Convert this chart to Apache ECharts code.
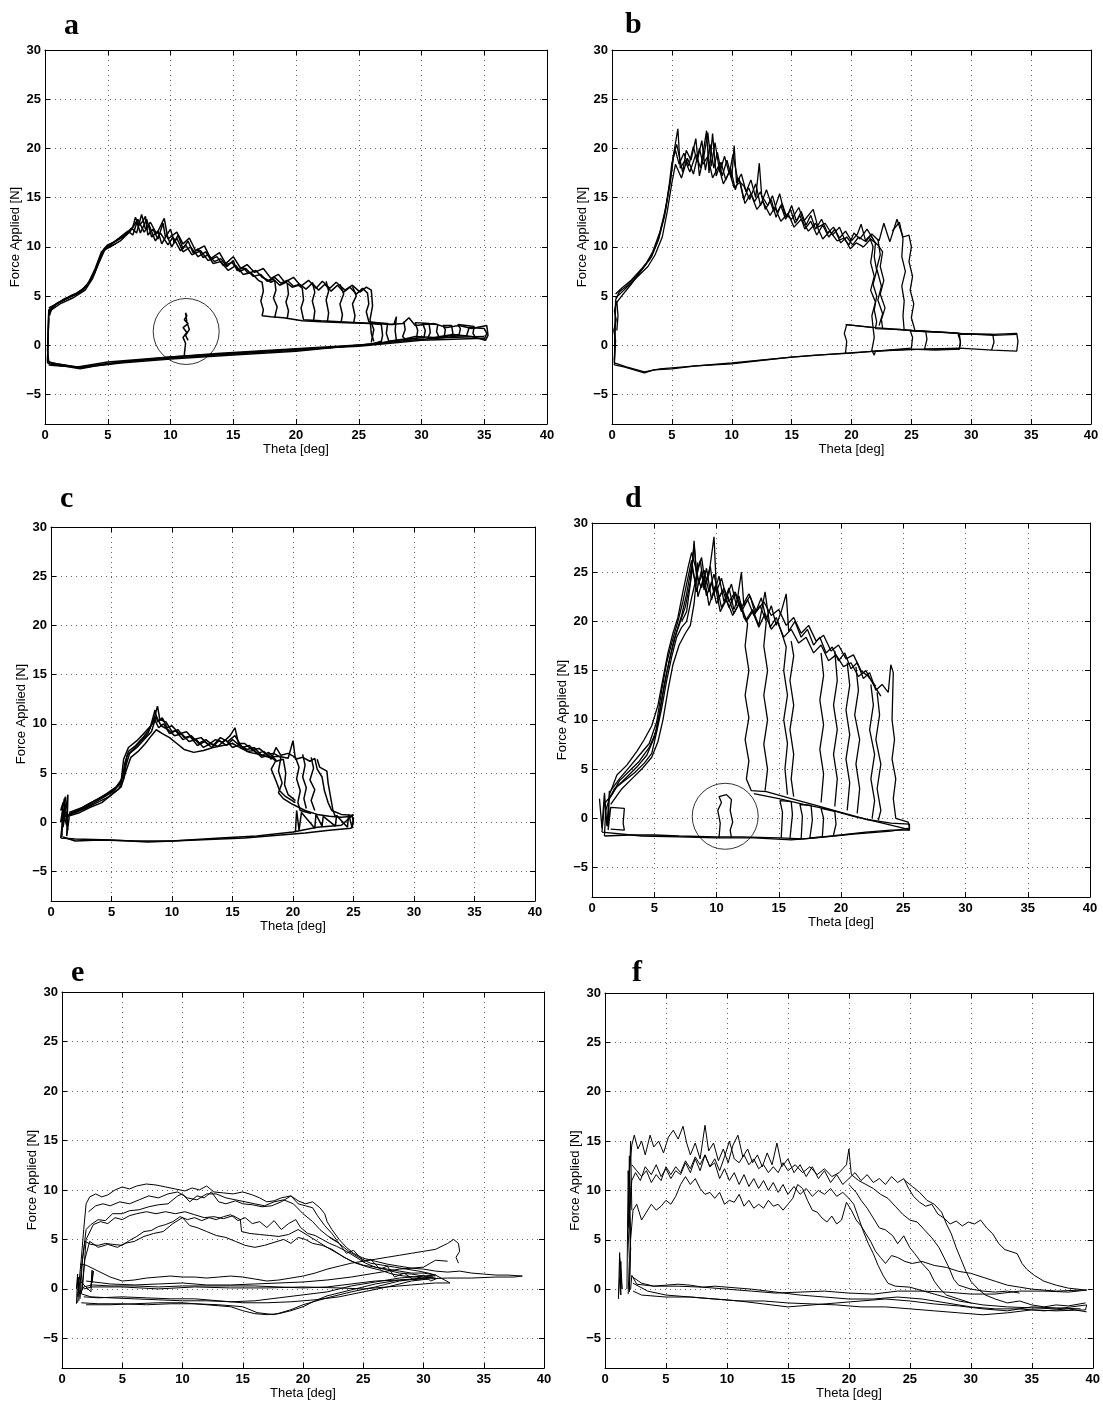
<!DOCTYPE html>
<html><head><meta charset="utf-8">
<script src="https://cdn.jsdelivr.net/npm/echarts@6/dist/echarts.min.js"></script>
<style>html,body{margin:0;padding:0;background:#fff}#c{width:1103px;height:1401px}</style>
</head><body><div id="c"></div>
<script>
// ---------- tick labels / text ----------
const xTicks = [0,5,10,15,20,25,30,35,40];
const yTicks = [-5,0,5,10,15,20,25,30];
const panelLetters = ['a','b','c','d','e','f'];
const xName = 'Theta [deg]';
const yName = 'Force Applied [N]';

// ---------- panel a traces (flat x,y lists) ----------
const a1 = [0.2,-1.6, 0.25,1.0, 0.3,3.4, 0.6,3.9, 1.0,4.3, 1.5,4.6, 2.0,5.0, 2.5,5.3, 3.0,5.7, 3.5,6.4, 4.0,7.5, 4.4,8.8, 4.7,9.8, 5.0,10.2, 5.5,10.5, 6.0,10.9, 6.5,11.3, 7.0,12.0, 7.2,13.0, 7.5,12.2, 7.8,12.6, 8.0,13.1, 8.2,11.2, 8.6,11.8, 9.0,10.8, 9.4,12.4, 9.6,11.0, 10.0,11.8, 10.3,10.4, 10.6,11.2, 11.0,9.8, 11.4,10.6, 11.8,9.4, 12.2,9.8, 12.6,8.9, 13.0,9.2, 13.5,8.5, 14.0,8.8, 14.5,8.0, 15.0,8.6, 15.3,7.6, 15.8,7.9, 16.2,7.3, 16.8,7.6, 17.3,6.9, 17.8,6.6, 18.3,6.9, 18.8,6.3, 19.3,6.6, 19.8,6.0, 20.3,6.2, 20.8,5.7, 21.3,6.3, 21.8,5.6, 22.3,6.2, 22.8,5.5, 23.3,6.1, 23.8,5.4, 24.3,5.9, 24.8,5.2, 25.3,5.8, 25.7,5.3, 25.8,4.2, 25.6,3.4, 25.8,2.4, 26.5,2.3, 27.5,2.1, 28.5,2.2, 29.0,2.8, 29.5,2.0, 31.0,2.2, 32.0,1.8, 33.0,2.0, 34.0,1.7, 35.2,2.0, 35.3,1.0, 35.1,0.5, 34.0,0.9, 32.5,1.1, 31.0,0.8, 29.5,0.9, 28.5,0.6, 27.0,0.3, 25.0,0.0, 20.0,-0.5, 15.0,-0.9, 10.0,-1.3, 7.0,-1.6, 5.0,-1.9, 2.7,-2.3, 1.5,-2.0, 0.5,-1.8, 0.2,-1.6];
const a2 = [0.2,-1.8, 0.3,3.6, 0.7,4.0, 1.2,4.4, 2.0,4.9, 3.0,5.5, 3.6,6.6, 4.2,8.2, 4.6,9.6, 5.2,10.0, 6.0,10.6, 6.8,11.6, 7.3,12.6, 7.6,11.4, 8.1,12.8, 8.5,11.0, 9.0,11.6, 9.3,10.3, 9.7,11.2, 10.1,10.0, 10.5,10.9, 11.0,9.5, 11.6,10.0, 12.2,9.0, 12.8,9.5, 13.4,8.3, 14.0,8.5, 14.6,7.6, 15.2,8.1, 15.8,7.2, 16.4,7.4, 17.0,6.6, 17.3,6.4, 17.4,5.5, 17.2,4.5, 17.4,3.6, 17.3,3.0, 18.0,2.9, 19.0,2.8, 20.5,2.5, 22.0,2.4, 24.0,2.3, 26.0,2.2, 26.8,2.1, 26.9,1.0, 26.8,0.4, 26.0,0.1, 24.0,-0.1, 20.0,-0.6, 15.0,-1.0, 10.0,-1.4, 6.0,-1.8, 4.0,-2.1, 2.8,-2.4, 1.5,-2.1, 0.4,-1.9, 0.2,-1.8];
const a3 = [0.3,3.2, 0.8,4.1, 1.5,4.7, 2.5,5.2, 3.3,6.0, 3.9,7.2, 4.5,9.3, 5.0,10.0, 5.8,10.8, 6.6,11.6, 7.0,11.2, 7.4,12.8, 7.9,11.5, 8.3,12.2, 8.8,10.6, 9.2,11.4, 9.8,10.2, 10.2,11.0, 10.8,9.6, 11.2,10.2, 11.7,9.2, 12.4,9.6, 13.0,8.6, 13.7,9.0, 14.2,8.1, 14.9,8.4, 15.5,7.5, 16.0,7.8, 16.6,7.0, 17.2,7.2, 17.7,6.5, 18.2,6.7, 18.7,6.1, 19.2,6.4, 19.7,5.9, 20.2,6.1, 20.5,5.8, 20.6,4.6, 20.4,3.8, 20.6,2.6, 22.0,2.5, 25.0,2.3, 27.8,2.1, 28.0,2.9, 27.9,1.5, 28.0,0.5];
const a4 = [17.5,6.8, 18.0,6.4, 18.3,6.6, 18.4,5.6, 18.2,4.8, 18.5,3.9, 18.3,2.8];
const a5 = [19.3,6.3, 19.4,5.2, 19.2,4.4, 19.4,3.5, 19.3,2.7];
const a6 = [21.3,6.4, 21.5,5.4, 21.3,4.5, 21.5,3.5, 21.4,2.5];
const a7 = [22.4,6.5, 22.6,5.5, 22.4,4.6, 22.6,3.3, 22.5,2.4];
const a8 = [23.5,6.2, 23.8,5.2, 23.5,4.2, 23.7,3.1, 23.6,2.4];
const a9 = [24.5,6.0, 24.8,5.0, 24.5,4.2, 24.7,3.0, 24.6,2.3];
const a10 = [28.6,2.4, 28.7,1.6, 28.5,0.9, 28.7,0.6, 30.2,0.8, 30.3,1.5, 30.1,2.2, 31.3,2.1, 31.2,1.4, 31.4,0.8, 33.0,1.1, 33.1,1.7, 32.9,2.1, 34.2,1.9, 34.1,1.2, 34.3,0.8];
const a11 = [11.1,-1.0, 11.2,0.2, 11.0,0.8, 11.3,1.3, 11.0,1.8, 11.4,2.2, 11.1,2.6, 11.3,3.0, 11.2,3.3, 11.3,2.4, 11.5,1.6, 11.2,1.0, 11.4,0.5];
const a12 = [35.0,0.7, 30.0,0.5, 25.0,-0.1, 20.0,-0.4, 15.0,-0.8, 10.0,-1.2, 5.0,-1.7, 2.6,-2.2, 1.0,-1.9, 0.3,-1.7, 0.2,-0.5, 0.3,2.8];
const a13 = [0.3,3.8, 0.9,4.2, 1.8,4.8, 2.8,5.4, 3.4,6.2, 4.0,7.8, 4.5,9.5, 5.3,10.3, 6.2,11.0, 6.9,11.9, 7.3,11.4, 7.7,13.3, 8.0,11.8, 8.4,12.5, 8.9,11.3, 9.5,12.9, 9.8,10.8, 10.5,11.5, 11.0,10.3, 11.5,10.9, 12.0,9.6, 12.7,10.1, 13.2,8.8, 13.9,9.4, 14.4,8.3, 15.0,9.0, 15.6,7.8, 16.1,8.2, 16.7,7.4, 17.4,7.8, 18.0,6.8, 18.6,7.2, 19.1,6.4, 19.8,6.9, 20.4,6.0, 21.0,6.6, 21.6,5.8, 22.1,6.5, 22.7,5.8, 23.2,6.4, 23.9,5.6, 24.5,6.1, 25.1,5.4, 25.6,5.9, 26.0,5.6, 26.1,4.0, 25.9,2.6, 26.0,1.2, 26.2,0.4];
const a14 = [26.0,0.3, 26.2,1.6, 26.0,2.3, 27.3,2.2, 27.2,1.2, 27.4,0.4, 28.0,0.5, 29.6,0.7, 29.7,1.5, 29.5,2.3, 30.6,2.2, 30.7,1.3, 30.5,0.7, 31.8,0.8, 31.9,1.6, 31.7,2.0, 32.4,2.0, 32.5,1.2, 32.3,0.9, 33.6,1.0, 33.8,1.8, 35.0,1.7, 35.2,1.2, 35.0,0.6];
const a15 = [0.3,-2.0, 1.2,-2.1, 2.8,-2.2, 6.0,-1.7, 10.0,-1.2, 14.0,-0.8, 18.0,-0.5, 22.0,-0.2, 26.0,0.1, 29.0,0.5, 32.0,0.8, 35.0,0.9];
const a16 = [0.35,3.0, 0.5,3.6, 1.2,4.2, 2.2,4.8, 3.2,5.6, 3.8,6.8, 4.3,8.4, 4.8,9.8, 5.6,10.3];
const aCircle = [[11.25, 1.4]];

// ---------- panel b ----------
const b1 = [0.2,-2.0, 0.25,1.0, 0.3,4.6, 0.6,5.4, 1.2,6.0, 2.0,7.0, 2.8,8.2, 3.4,9.5, 4.0,11.5, 4.5,14.0, 4.8,16.5, 5.0,18.5, 5.3,19.8, 5.6,18.4, 6.0,19.5, 6.4,18.2, 6.8,20.2, 7.1,18.6, 7.5,20.8, 7.8,17.8, 8.2,20.4, 8.5,18.0, 8.8,19.6, 9.2,17.2, 9.6,18.8, 10.0,17.0, 10.2,20.3, 10.4,16.5, 10.8,17.4, 11.2,15.6, 11.6,16.8, 12.0,15.0, 12.3,18.5, 12.5,15.2, 13.0,14.2, 13.4,15.2, 13.8,13.5, 14.2,14.4, 14.6,13.0, 15.0,14.2, 15.4,12.6, 15.8,13.6, 16.2,12.2, 16.6,13.2, 17.0,11.8, 17.5,12.8, 18.0,11.4, 18.5,12.0, 19.0,10.9, 19.5,11.6, 20.0,10.6, 20.5,11.3, 20.8,12.3, 21.2,10.5, 21.6,11.2, 22.0,10.4, 21.9,9.0, 22.1,7.6, 21.8,6.2, 22.1,5.0, 21.9,3.6, 22.1,2.4, 22.0,1.7, 24.0,1.6, 26.0,1.4, 28.0,1.3, 29.0,1.2, 29.1,0.2, 29.0,-0.4, 27.0,-0.5, 25.0,-0.4, 22.0,-0.6, 20.0,-0.8, 17.0,-1.0, 15.0,-1.2, 12.0,-1.6, 10.0,-1.9, 7.0,-2.1, 5.0,-2.4, 3.5,-2.5, 2.7,-2.8, 1.0,-2.2, 0.2,-2.0];
const b2 = [0.2,-1.8, 0.3,4.2, 0.8,5.0, 1.6,6.2, 2.4,7.5, 3.2,8.8, 3.8,10.5, 4.3,12.8, 4.7,15.5, 5.0,17.8, 5.2,19.8, 5.5,22.0, 5.7,18.0, 6.1,18.8, 6.5,17.6, 7.0,19.4, 7.4,18.0, 7.9,21.8, 8.1,17.5, 8.4,21.5, 8.7,17.2, 9.1,18.6, 9.5,16.8, 9.9,18.0, 10.3,15.8, 10.6,17.0, 11.0,14.8, 11.4,16.0, 11.9,14.6, 12.4,15.6, 12.8,13.8, 13.3,14.8, 13.7,13.0, 14.1,14.2, 14.5,12.8, 14.9,13.8, 15.3,12.4, 15.7,13.2, 16.1,11.8, 16.6,12.6, 17.1,11.2, 17.6,12.2, 18.1,11.0, 18.6,11.8, 19.1,10.4, 19.6,11.0, 20.1,10.2, 20.6,11.0, 21.1,10.6, 21.7,11.3, 22.3,10.6, 22.7,12.4, 23.2,10.5, 23.8,12.8, 24.3,11.0, 24.8,11.2, 25.0,10.0, 24.8,8.5, 25.1,7.0, 24.9,5.6, 25.2,4.2, 25.0,2.8, 25.3,1.5, 26.5,1.4, 29.0,1.2, 31.8,1.1, 33.8,1.2, 33.9,0.4, 33.8,-0.6, 31.8,-0.5, 29.0,-0.3, 26.0,-0.4, 22.0,-0.6, 19.5,-0.8, 15.0,-1.2, 10.0,-1.8, 6.0,-2.2, 4.0,-2.4, 2.7,-2.7, 1.2,-2.2, 0.2,-1.8];
const b3 = [0.3,4.8, 1.0,5.6, 2.0,6.8, 3.0,8.0, 3.6,9.2, 4.2,11.0, 4.6,13.5, 5.0,16.5, 5.3,18.4, 5.8,17.0, 6.3,19.0, 6.8,17.4, 7.3,20.0, 7.6,18.4, 8.0,19.2, 8.4,17.0, 8.9,18.2, 9.3,16.4, 9.8,17.6, 10.2,16.0, 10.7,16.6, 11.1,14.4, 11.6,15.4, 12.1,13.8, 12.6,14.6, 13.2,13.2, 13.6,14.0, 14.1,12.6, 14.7,13.4, 15.2,12.0, 15.8,12.8, 16.4,11.6, 17.0,12.4, 17.6,10.8, 18.2,11.6, 18.8,10.6, 19.4,10.9, 19.9,9.8, 20.4,10.4, 21.0,10.0, 21.6,10.8, 22.2,10.2, 22.6,9.5, 22.4,8.0, 22.7,6.6, 22.4,5.2, 22.8,3.8, 22.5,2.6, 22.6,1.7];
const b4 = [21.5,11.0, 21.8,10.0, 21.6,8.4, 21.9,7.0, 21.6,5.6, 22.0,4.4, 21.7,3.0, 21.8,1.8];
const b5 = [23.4,11.6, 24.0,12.5, 24.3,10.8, 24.2,9.0, 24.5,7.5, 24.2,6.0, 24.4,4.5, 24.3,3.0, 24.4,1.5];
const b6 = [22.2,10.8, 22.4,9.2, 22.1,7.8, 22.5,6.0, 22.2,4.6, 22.6,3.2, 22.3,2.0];
const b7 = [19.5,-0.8, 19.6,0.4, 19.4,1.2, 19.6,2.1, 21.8,1.8, 21.9,0.8, 21.7,-0.5, 21.9,-1.0, 22.0,-0.6, 25.0,-0.3, 25.1,0.8, 24.9,1.5, 26.2,1.4, 26.3,0.6, 26.1,-0.4, 29.0,-0.4, 29.1,0.4, 28.9,1.1, 31.8,1.1, 31.9,0.3, 31.7,-0.5];
const b8 = [19.5,2.1, 22.0,1.8, 25.0,1.5, 29.0,1.2, 31.8,1.0, 33.8,1.1];
const b9 = [0.2,-1.5, 0.3,0.5, 0.15,1.5, 0.35,2.6, 0.2,3.5, 0.4,4.5, 0.5,3.0, 0.4,1.5];
const b10 = [0.3,5.2, 0.8,5.8, 1.6,6.6, 2.5,7.8, 3.3,9.0, 3.9,10.8, 4.4,13.2, 4.9,16.8, 5.1,19.2, 5.4,20.4, 5.9,17.6, 6.2,19.8, 6.6,18.8, 7.0,21.0, 7.3,17.2, 7.7,19.4, 8.0,21.6, 8.3,18.2, 8.6,20.6, 9.0,17.6, 9.4,19.2, 9.8,17.4, 10.1,19.4, 10.5,16.8, 11.0,16.2, 11.5,14.8, 12.0,16.4, 12.4,14.2, 12.9,15.8, 13.5,13.6, 14.0,15.4, 14.4,13.4, 15.0,12.8, 15.6,14.0, 16.0,12.6, 16.8,13.8, 17.2,12.0, 17.8,12.4, 18.4,11.2, 19.0,12.0, 19.4,10.8, 19.8,10.2, 20.2,11.4, 20.7,10.8, 21.3,11.8, 21.8,10.8];

// ---------- panel c ----------
const c1 = [0.8,-1.6, 1.0,0.5, 1.5,0.8, 2.2,1.2, 3.0,1.8, 3.8,2.3, 4.6,2.9, 5.4,3.6, 5.9,4.5, 6.1,6.0, 6.4,7.2, 7.0,7.8, 7.6,8.6, 8.2,9.6, 8.6,11.4, 8.8,10.2, 9.2,10.6, 9.6,9.6, 10.0,9.8, 10.6,9.0, 11.2,9.2, 11.8,8.4, 12.4,8.6, 13.0,7.9, 13.6,8.4, 14.2,8.1, 14.8,8.8, 15.2,9.6, 15.5,8.0, 16.0,8.0, 16.6,7.4, 17.2,7.5, 17.8,6.9, 18.4,7.0, 19.0,6.6, 18.8,5.2, 19.1,4.0, 18.8,3.0, 19.2,2.4, 20.0,1.8, 21.0,1.2, 22.0,0.8, 23.0,0.6, 24.0,0.5, 24.9,0.6, 25.0,0.0, 24.8,-0.6, 23.0,-0.8, 21.0,-1.1, 19.0,-1.3, 16.0,-1.6, 12.0,-1.8, 8.0,-2.0, 5.0,-1.8, 2.0,-1.7, 0.8,-1.6];
const c2 = [1.4,0.6, 2.4,1.0, 3.2,1.5, 4.2,2.0, 5.0,2.8, 5.8,3.6, 6.2,5.2, 6.6,6.6, 7.2,7.2, 7.8,8.0, 8.3,8.8, 8.7,9.4, 9.2,9.0, 9.8,8.6, 10.4,8.0, 11.0,7.4, 11.8,7.1, 12.6,7.3, 13.4,7.6, 14.2,7.8, 15.0,8.0, 15.6,7.6, 16.4,7.1, 17.2,6.9, 18.0,6.6, 18.8,6.7, 19.6,6.5, 20.0,8.3, 20.2,6.4, 20.8,6.6, 21.4,6.2, 21.8,6.5, 22.0,5.4, 22.4,4.6, 22.6,3.2, 22.9,2.0, 23.2,1.2, 24.0,0.8, 25.0,0.7];
const c3 = [1.5,1.0, 2.6,1.5, 3.6,2.2, 4.4,2.7, 5.2,3.3, 5.8,4.2, 6.0,6.4, 6.4,7.6, 7.2,8.4, 7.8,9.2, 8.4,10.0, 8.8,11.8, 9.0,10.4, 9.5,10.2, 10.0,9.2, 10.5,9.4, 11.0,8.6, 11.6,8.8, 12.2,8.0, 12.8,8.4, 13.4,7.8, 14.0,8.6, 14.6,8.2, 15.2,8.8, 15.8,7.6, 16.4,7.8, 17.0,7.0, 17.6,7.2, 18.2,6.4, 18.6,7.6, 19.0,6.8, 19.6,7.0, 20.2,6.6, 20.5,5.6, 20.3,4.4, 20.6,3.2, 20.4,2.0, 20.6,1.2, 21.5,0.9];
const c4 = [20.8,6.9, 21.0,5.8, 20.8,4.6, 21.1,3.5, 20.9,2.4, 21.1,1.4];
const c5 = [21.5,6.6, 21.7,5.5, 21.4,4.3, 21.8,3.3, 21.5,2.2, 21.8,1.2];
const c6 = [22.0,6.4, 22.2,5.6, 22.8,5.2, 22.9,4.0, 23.1,2.6, 23.3,1.2, 23.5,0.6];
const c7 = [25.0,0.8, 24.0,-0.3, 22.0,-0.5, 20.0,-1.0, 17.0,-1.4, 14.0,-1.6, 10.0,-1.9, 7.0,-1.9, 4.0,-1.8, 2.0,-1.9, 1.0,-1.5];
const c8 = [0.9,-1.5, 1.0,2.0, 0.8,1.2, 1.2,2.6, 1.0,-0.5, 1.4,2.8, 1.3,-1.4, 1.5,0.5, 0.9,1.5, 1.4,-0.8, 1.1,2.4, 0.8,0.0];
const c9 = [20.2,-1.0, 20.3,1.2, 20.5,-0.8, 20.7,1.0, 21.8,-0.6, 21.9,0.8, 22.4,-0.4, 22.5,0.6, 23.5,-0.4, 23.6,0.7, 24.5,-0.5, 24.6,0.8, 24.9,-0.6, 25.0,0.5];
const c10 = [1.5,0.9, 2.5,1.3, 3.4,1.9, 4.3,2.5, 5.1,3.1, 5.7,3.9, 6.0,5.0, 6.3,6.8, 6.8,7.4, 7.4,8.2, 8.0,9.0, 8.5,10.6, 8.9,9.6, 9.3,10.0, 9.8,9.0, 10.3,9.3, 10.9,8.4, 11.5,8.7, 12.1,7.8, 12.7,8.2, 13.3,7.6, 13.9,8.3, 14.5,7.8, 15.0,8.4, 15.6,7.8, 16.2,7.4, 16.8,7.6, 17.4,6.8, 18.0,7.1, 18.6,6.3, 18.2,5.4, 18.6,4.2, 18.9,3.2, 19.4,2.6, 20.2,2.0];
const c11 = [1.5,0.7, 2.8,1.4, 3.8,2.0, 4.8,2.6, 5.6,3.4, 6.0,4.4, 6.2,5.8, 6.5,7.0, 7.1,7.6, 7.7,8.4, 8.3,9.2, 8.7,10.8, 9.1,9.8, 9.7,9.4, 10.2,8.8, 10.8,9.0, 11.4,8.2, 12.0,8.4, 12.6,7.6, 13.2,8.0, 13.8,7.7, 14.4,8.4, 15.0,7.6, 15.6,7.9, 16.2,7.2, 16.8,7.3, 17.4,6.6, 18.0,6.8, 18.6,6.2, 19.2,6.4, 19.4,5.0, 19.3,3.8, 19.6,2.8, 20.2,2.2];

// ---------- panel d ----------
const d1 = [1.0,-1.8, 1.1,0.8, 1.4,2.0, 2.0,3.2, 2.8,4.2, 3.6,5.2, 4.4,6.4, 5.0,8.2, 5.4,10.5, 5.8,13.5, 6.2,16.0, 6.6,18.2, 7.0,19.6, 7.5,21.5, 7.9,24.0, 8.2,27.8, 8.4,25.0, 8.8,26.5, 9.1,23.8, 9.5,25.6, 9.8,22.8, 10.2,24.6, 10.6,22.0, 11.0,23.4, 11.4,21.2, 11.8,22.6, 12.2,20.4, 12.5,19.8, 12.3,17.5, 12.6,15.0, 12.3,12.5, 12.6,10.2, 12.3,8.0, 12.6,5.8, 12.4,4.0, 12.8,2.8, 14.0,2.7, 16.0,2.0, 18.0,1.3, 20.0,0.6, 22.0,-0.1, 24.0,-0.5, 25.5,-0.6, 25.5,-1.2, 24.0,-1.2, 22.0,-1.4, 20.0,-1.7, 17.0,-2.1, 15.0,-2.0, 12.0,-1.9, 10.0,-1.9, 7.0,-1.8, 5.0,-1.7, 3.0,-1.7, 1.0,-1.8];
const d2 = [0.8,-1.4, 1.0,1.5, 1.6,2.4, 2.2,3.8, 3.0,4.8, 3.8,5.8, 4.6,7.2, 5.2,9.0, 5.6,12.0, 6.0,14.8, 6.4,17.0, 6.8,19.0, 7.2,20.6, 7.6,22.8, 8.0,25.6, 8.3,24.0, 8.7,26.2, 9.0,23.2, 9.4,24.8, 9.8,28.6, 10.0,23.0, 10.4,24.4, 10.8,22.4, 11.2,23.8, 11.6,21.6, 12.0,25.0, 12.2,21.6, 12.7,22.6, 13.1,20.8, 13.6,22.4, 14.0,20.2, 14.4,21.6, 14.8,19.6, 15.2,21.0, 15.6,22.8, 15.8,19.0, 16.3,20.0, 16.8,18.4, 17.3,19.2, 17.8,17.6, 18.3,18.4, 18.8,16.8, 19.3,17.4, 19.8,16.0, 20.3,16.8, 20.8,15.2, 21.3,15.8, 21.8,14.2, 22.3,14.8, 22.8,13.0, 23.3,13.6, 23.8,12.8, 24.0,15.6, 24.2,14.8, 24.1,10.0, 24.3,8.0, 24.1,6.0, 24.4,4.0, 24.2,2.0, 24.4,0.0, 25.4,-0.4, 25.5,-1.0, 24.0,-1.3, 21.0,-1.6, 18.0,-2.0, 16.0,-2.2, 13.0,-2.0, 10.0,-2.0, 7.0,-1.9, 4.0,-1.8, 0.8,-1.4];
const d3 = [1.5,2.8, 2.2,4.0, 3.0,5.2, 3.8,6.4, 4.6,7.6, 5.2,9.8, 5.6,13.0, 6.0,15.8, 6.4,17.8, 6.9,20.0, 7.3,22.0, 7.7,24.4, 8.0,26.2, 8.4,23.0, 8.8,25.2, 9.2,22.6, 9.6,24.0, 10.0,21.8, 10.5,23.2, 11.0,21.4, 11.5,22.8, 12.0,21.0, 12.5,22.2, 13.0,20.6, 13.5,21.6, 14.0,20.0, 13.8,17.5, 14.1,15.0, 13.8,12.5, 14.1,10.0, 13.8,7.5, 14.1,5.0, 13.9,2.8];
const d4 = [7.2,20.0, 7.6,21.0, 8.0,24.8, 8.2,28.2, 8.5,22.5, 9.0,24.6, 9.4,21.6, 9.9,23.6, 10.3,21.0, 10.8,22.2, 11.3,20.6, 11.8,21.8, 12.4,20.2, 12.9,21.2, 13.4,19.6, 13.9,23.0, 14.3,19.4, 14.8,20.4, 15.3,18.6, 15.6,17.4, 15.4,15.0, 15.7,12.5, 15.4,10.0, 15.7,7.6, 15.5,5.0, 15.7,2.4];
const d5 = [16.0,18.0, 16.2,16.5, 15.9,14.0, 16.2,11.5, 15.9,9.0, 16.2,6.5, 16.0,4.0, 16.2,2.2];
const d6 = [18.4,16.8, 18.6,14.5, 18.3,12.0, 18.6,9.5, 18.3,7.0, 18.6,4.5, 18.4,1.6];
const d7 = [19.5,17.0, 19.7,14.0, 19.4,11.5, 19.7,9.0, 19.4,6.5, 19.7,4.0, 19.5,1.2];
const d8 = [20.5,15.8, 20.7,13.5, 20.4,11.0, 20.7,8.5, 20.4,6.0, 20.7,3.6, 20.5,0.8];
const d9 = [21.2,15.4, 21.4,13.0, 21.1,10.5, 21.5,8.0, 21.2,5.5, 21.5,3.0, 21.3,0.5];
const d10 = [22.4,13.6, 22.6,11.5, 22.3,9.0, 22.7,6.5, 22.4,4.0, 22.7,1.8, 22.5,0.0];
const d11 = [22.9,12.8, 23.1,10.5, 22.8,8.0, 23.2,5.5, 22.9,3.0, 23.2,0.8, 23.0,-0.2];
const d12 = [10.2,-2.0, 10.3,-0.5, 10.1,0.8, 10.4,1.6, 10.2,2.2, 10.8,2.4, 11.2,1.9, 11.1,0.8, 11.3,-0.4, 11.1,-1.2, 11.2,-2.0];
const d13 = [0.6,2.0, 0.8,-1.0, 1.0,2.6, 1.2,-0.8, 1.4,2.8, 1.3,-1.2, 1.5,1.1, 2.6,1.0, 2.5,-0.5, 2.6,-1.2, 1.5,-1.1];
const d14 = [15.2,-2.0, 15.3,0.6, 15.1,1.8, 16.0,1.7, 16.1,0.4, 15.9,-2.1, 16.8,-2.1, 16.9,0.2, 16.7,1.4, 17.6,1.3, 17.7,-0.2, 17.5,-2.0, 18.5,-1.9, 18.6,0.0, 18.4,1.0, 19.5,0.7, 19.6,-0.6, 19.4,-1.7];
const d15 = [13.0,2.5, 15.0,2.0, 17.0,1.4, 19.0,0.9, 21.0,0.2, 23.0,-0.4, 25.0,-1.0, 25.5,-1.2];
const d16 = [1.4,2.4, 2.0,4.4, 2.8,5.4, 3.6,6.8, 4.2,8.0, 4.8,9.4, 5.3,11.5, 5.7,14.2, 6.1,16.8, 6.5,18.8, 6.9,20.4, 7.3,23.0, 7.7,25.4, 8.0,27.0, 8.3,25.6, 8.6,24.0, 9.0,25.2, 9.4,23.0, 9.8,24.8, 10.2,22.4, 10.6,23.4, 11.0,22.0, 11.5,23.0, 12.0,21.4, 12.6,22.8, 13.2,21.0, 13.8,22.0, 14.4,20.6, 15.0,21.2, 15.6,19.6, 16.2,20.4, 16.8,18.8, 17.4,19.6, 18.0,18.0, 18.6,18.6, 19.2,17.0, 19.8,17.6, 20.4,16.2, 21.0,16.6, 21.6,15.0, 22.2,14.4, 22.8,13.4];
const d17 = [1.3,1.8, 1.8,3.0, 2.6,3.8, 3.4,4.6, 4.2,5.6, 4.8,6.6, 5.2,8.8, 5.6,11.2, 6.0,14.0, 6.4,16.4, 6.8,18.4, 7.2,19.4, 7.6,20.0, 8.0,22.4, 8.4,24.6, 8.8,23.4, 9.2,25.4, 9.6,22.2, 10.0,23.8, 10.4,21.4, 10.9,22.6, 11.4,20.8, 11.9,22.0, 12.4,20.0, 12.9,21.0, 13.4,19.4, 13.9,20.8, 14.4,19.2, 14.9,20.0, 15.4,18.4, 16.0,19.2, 16.6,17.8, 17.2,18.4, 17.8,16.8, 18.4,17.6, 19.0,16.0, 19.6,16.6, 20.2,15.4, 20.8,15.8, 21.4,14.4, 22.0,15.0, 22.6,13.6, 23.2,12.4];
const d18 = [1.5,1.4, 2.4,3.0, 3.2,4.0, 4.0,5.0, 4.8,6.2, 5.3,7.8, 5.7,10.0, 6.1,13.0, 6.5,15.6, 7.0,17.6, 7.5,18.8, 7.9,19.6, 8.2,21.8, 8.5,26.0];
const dCircle = [[10.7, 0.2]];

// ---------- panel e ----------
const e1 = [1.3,-1.4, 1.4,0.5, 1.6,3.0, 1.8,6.0, 2.0,8.6, 2.3,9.3, 2.8,9.6, 3.3,9.3, 3.8,9.5, 4.4,10.0, 5.0,10.3, 5.6,10.1, 6.2,10.4, 7.0,10.6, 7.8,10.5, 8.6,10.3, 9.4,10.1, 10.2,9.9, 10.8,10.2, 11.4,10.0, 12.0,10.4, 12.6,9.8, 13.4,9.7, 14.2,9.6, 15.0,9.8, 15.8,9.5, 16.4,9.2, 17.0,8.8, 17.6,8.9, 18.2,9.2, 19.0,9.4, 19.6,8.9, 20.2,8.6, 20.8,8.8, 21.4,8.2, 21.8,7.6, 22.0,6.8, 22.4,6.0, 23.0,5.0, 23.6,4.2, 24.2,3.6, 25.0,3.1, 26.0,2.8, 27.0,2.5, 28.0,2.3, 29.0,2.1, 30.0,2.0, 31.0,1.8, 32.0,1.7, 33.0,1.8, 34.0,1.6, 35.0,1.5, 36.0,1.4, 37.0,1.4, 38.2,1.3, 37.5,1.2, 36.0,1.2, 34.0,1.1, 32.0,1.1, 30.0,1.0, 28.0,0.9, 26.0,0.8, 24.0,0.5, 22.0,0.2, 20.0,0.1, 18.0,0.2, 16.0,0.3, 14.0,0.3, 12.0,0.3, 10.0,0.3, 8.0,0.2, 6.0,0.3, 4.0,0.3, 2.5,0.4, 1.8,0.2, 1.5,-0.5];
const e2 = [1.5,-1.0, 1.7,3.0, 2.0,6.0, 2.4,6.5, 3.0,7.0, 3.6,6.9, 4.2,7.6, 5.0,7.6, 5.6,7.9, 6.4,8.0, 7.2,8.3, 8.0,8.5, 8.8,8.6, 9.6,9.4, 10.0,9.6, 10.6,8.8, 11.2,9.4, 11.8,9.2, 12.4,9.8, 13.0,8.8, 13.6,8.6, 14.4,8.9, 15.0,8.6, 15.8,8.5, 16.6,8.3, 17.4,8.4, 18.2,8.8, 19.0,9.4, 19.6,8.6, 20.2,8.4, 20.8,8.2, 21.2,7.4, 21.8,6.4, 22.4,5.6, 23.0,4.6, 23.8,3.8, 24.6,3.2, 25.6,2.6, 26.6,2.4, 27.6,2.2, 28.6,2.0, 29.6,1.8, 30.4,1.6, 31.0,1.4, 30.0,1.3, 28.0,1.1, 26.0,0.7, 24.0,0.3, 22.0,-0.3, 20.0,-0.6, 18.0,-0.9, 16.0,-1.2, 14.0,-1.3, 12.0,-1.2, 10.0,-1.2, 8.0,-1.1, 6.0,-1.0, 4.0,-0.9, 2.4,-0.8, 1.6,-0.5];
const e3 = [1.4,-1.2, 1.6,2.0, 1.9,4.8, 2.4,4.5, 3.0,4.4, 3.6,4.6, 4.2,4.5, 5.0,4.4, 5.6,4.9, 6.2,5.3, 6.8,5.8, 7.4,5.9, 8.0,6.3, 8.6,6.5, 9.2,6.8, 9.8,7.3, 10.4,7.0, 11.0,7.2, 11.6,6.9, 12.2,7.2, 12.8,7.0, 13.4,7.3, 14.0,7.5, 14.6,6.9, 15.2,7.2, 15.8,6.6, 16.4,6.8, 17.0,6.2, 17.6,6.9, 18.2,6.0, 18.8,6.6, 19.4,7.0, 19.8,6.2, 20.4,5.6, 21.0,5.4, 21.6,5.0, 22.2,4.6, 22.8,4.3, 23.6,3.8, 24.4,3.2, 25.2,2.6, 26.0,2.2, 27.0,1.9, 28.0,1.6, 29.0,1.5, 30.0,1.3, 30.8,1.2, 30.0,1.1, 28.0,0.8, 26.0,0.2, 24.0,-0.3, 22.0,-0.9, 20.0,-1.6, 19.0,-2.1, 17.6,-2.6, 16.2,-2.4, 15.0,-1.8, 13.0,-1.6, 11.0,-1.5, 9.0,-1.5, 7.0,-1.6, 5.0,-1.5, 3.0,-1.5, 1.6,-1.4];
const e4 = [1.6,-0.5, 1.9,3.0, 2.3,4.8, 3.0,4.2, 3.8,4.5, 4.6,4.2, 5.2,4.6, 6.0,4.8, 6.8,5.3, 7.6,5.6, 8.4,5.8, 9.2,6.6, 10.0,7.2, 10.6,6.4, 11.2,6.2, 12.0,5.8, 12.8,5.4, 13.6,5.2, 14.4,4.8, 15.2,4.4, 16.0,4.2, 16.8,4.4, 17.6,4.7, 18.4,5.0, 19.0,4.6, 19.6,5.2, 20.2,5.0, 20.8,4.6, 21.6,4.4, 22.4,4.0, 23.4,3.2, 24.4,2.6, 25.4,2.2, 26.4,1.9, 27.4,1.5, 28.4,1.3, 29.4,1.2, 30.4,1.0, 29.0,0.8, 27.0,0.2, 25.0,-0.3, 23.0,-0.8, 21.0,-1.1, 19.0,-1.3, 17.0,-1.4, 15.0,-1.4, 13.0,-1.2, 11.0,-1.0, 9.0,-1.0, 7.0,-0.9, 5.0,-0.8, 3.0,-0.9, 1.8,-0.8];
const e5 = [1.7,0.0, 2.0,5.0, 2.6,6.5, 3.2,6.8, 3.8,6.6, 4.4,7.2, 5.0,7.0, 5.6,7.4, 6.2,7.6, 7.0,7.8, 7.8,7.6, 8.6,7.8, 9.4,7.6, 10.2,7.8, 11.0,7.5, 11.8,7.2, 12.6,7.3, 13.4,7.1, 14.2,7.4, 14.8,7.0, 14.9,5.8, 15.6,5.6, 16.4,5.5, 17.2,5.4, 18.0,5.3, 18.8,5.5, 19.6,6.0, 20.4,5.4, 21.2,4.8, 22.0,4.2, 23.0,3.5, 24.0,2.8, 25.0,2.4, 26.0,2.2, 27.0,2.0, 28.0,1.8, 29.0,1.6, 30.0,1.6, 31.0,1.4, 32.2,0.6, 31.0,0.6, 29.0,0.4, 27.0,0.2, 25.0,0.0, 23.0,0.1, 20.0,0.2, 17.0,0.1, 14.0,0.1, 11.0,0.2, 8.0,0.0, 5.0,0.2, 2.5,0.2, 1.8,0.0];
const e6 = [1.5,2.5, 2.0,2.4, 3.0,1.8, 4.0,1.2, 5.0,0.8, 6.0,0.9, 7.0,1.1, 8.0,1.2, 9.0,1.3, 10.0,1.2, 11.0,1.2, 12.0,1.1, 13.0,1.2, 14.0,1.3, 15.0,1.2, 16.0,1.0, 17.0,0.8, 18.0,0.9, 19.0,1.1, 20.0,1.3, 21.0,1.6, 22.0,2.0, 23.0,2.3, 24.0,2.6, 25.0,2.8, 26.0,3.0, 27.0,3.2, 28.0,3.4, 29.0,3.6, 30.0,3.8, 31.0,4.0, 32.0,4.6, 32.5,5.0, 32.9,4.6, 33.0,3.8, 32.7,3.2, 32.9,2.6];
const e7 = [2.0,-1.6, 4.0,-1.6, 6.0,-1.5, 8.0,-1.4, 10.0,-1.4, 12.0,-1.6, 14.0,-1.8, 15.0,-2.2, 16.0,-2.5, 17.0,-2.6, 18.0,-2.5, 19.0,-2.2, 20.0,-1.8, 21.0,-1.2, 22.0,-0.7, 24.0,-0.1, 26.0,0.5, 28.0,0.9, 30.0,1.1, 31.0,1.2];
const e8 = [1.2,-1.5, 1.3,1.5, 1.2,0.0, 1.4,1.2, 1.3,-0.8, 1.5,0.8, 2.4,-0.3, 2.5,1.9, 2.4,0.2, 2.6,1.8, 2.5,0.6];
const e9 = [2.0,0.8, 4.0,0.5, 6.0,0.4, 8.0,0.5, 10.0,0.6, 12.0,0.4, 14.0,0.4, 16.0,0.5, 18.0,0.6, 20.0,0.7, 22.0,0.9, 24.0,1.2, 26.0,1.6, 28.0,2.0, 30.0,2.2, 31.0,2.9, 32.0,2.8];
const e10 = [22.2,5.2, 23.0,4.6, 23.6,3.6, 24.2,3.9, 25.0,2.8, 25.6,3.0, 26.4,2.0, 27.0,2.3, 27.6,1.2, 28.4,1.6, 29.2,0.9, 30.0,1.4, 30.6,0.8, 31.2,1.1];
const e11 = [2.2,7.8, 2.8,8.4, 3.4,8.6, 4.0,8.4, 4.8,8.8, 5.6,8.6, 6.4,9.0, 7.2,9.4, 8.0,9.2, 8.8,9.6, 9.6,9.8, 10.4,9.2, 11.2,9.0, 12.0,9.6, 12.8,9.6, 13.6,9.2, 14.4,9.0, 15.2,8.8, 16.0,8.6, 16.8,8.4, 17.6,8.8, 18.4,9.0, 19.2,8.6, 20.0,7.6, 20.8,6.8, 21.4,6.0, 22.0,5.4, 22.8,4.8];

// ---------- panel f ----------
const f1 = [1.9,-0.5, 2.0,3.0, 1.9,6.0, 2.1,9.0, 2.0,12.0, 2.2,14.6, 2.4,15.6, 2.7,14.2, 3.0,15.0, 3.3,13.6, 3.7,15.6, 4.0,14.4, 4.4,15.0, 4.8,13.8, 5.2,15.4, 5.6,16.1, 6.0,15.2, 6.4,16.5, 6.7,14.8, 7.0,13.6, 7.4,14.8, 7.8,13.2, 8.2,16.6, 8.5,14.0, 8.9,14.8, 9.3,13.0, 9.7,14.2, 10.1,12.8, 10.5,14.6, 10.9,15.6, 11.3,13.4, 11.7,14.2, 12.1,12.8, 12.5,13.6, 12.9,12.4, 13.3,13.8, 13.7,12.6, 14.1,14.8, 14.5,12.4, 15.0,13.2, 15.5,11.8, 16.0,12.6, 16.5,11.4, 17.0,12.4, 17.5,11.2, 18.0,12.0, 18.5,10.8, 19.0,11.6, 19.5,10.6, 20.0,11.2, 20.5,11.8, 21.0,11.0, 21.5,11.6, 22.0,10.8, 22.5,11.2, 23.0,10.6, 23.5,11.4, 24.0,10.8, 24.5,11.2, 24.9,10.2, 25.3,9.4, 25.8,8.8, 26.3,8.4, 26.8,8.6, 27.3,7.6, 27.8,7.2, 28.3,6.6, 28.8,6.9, 29.3,6.4, 29.8,6.8, 30.3,6.6, 30.8,7.0, 31.3,6.2, 31.8,5.6, 32.3,4.6, 32.8,4.0, 33.3,3.8, 33.8,3.6, 34.2,2.6, 34.6,2.0, 35.2,1.4, 36.0,0.8, 37.0,0.4, 38.0,0.1, 39.5,-0.1, 39.5,-0.3, 38.0,-0.3, 36.0,-0.2, 34.0,-0.2, 32.0,-0.5, 30.0,-0.5, 28.0,-0.3, 26.0,-0.2, 24.0,-0.2, 22.0,-0.5, 20.0,-0.4, 18.0,-0.2, 16.0,-0.3, 14.0,-0.4, 12.0,-0.2, 10.0,0.0, 8.0,0.2, 6.0,0.3, 4.0,0.3, 2.6,0.5, 2.2,1.4, 2.1,0.0];
const f2 = [2.0,-0.3, 2.1,4.0, 2.0,8.0, 2.2,11.0, 2.5,11.8, 2.9,11.0, 3.3,12.4, 3.8,11.6, 4.2,12.6, 4.6,11.4, 5.0,12.2, 5.4,11.2, 5.8,12.0, 6.2,11.6, 6.6,12.8, 7.0,11.8, 7.4,13.2, 7.8,12.0, 8.2,13.6, 8.6,12.4, 9.0,12.8, 9.4,11.2, 9.8,12.2, 10.2,11.0, 10.6,11.8, 11.0,10.6, 11.4,11.6, 11.8,10.4, 12.2,11.2, 12.6,10.2, 13.0,11.0, 13.4,10.0, 13.8,10.8, 14.2,9.8, 14.6,10.6, 15.0,9.6, 15.5,10.4, 16.0,9.6, 16.5,10.2, 17.0,9.4, 17.5,10.0, 18.0,9.6, 18.5,10.2, 19.0,9.4, 19.5,9.8, 20.0,9.2, 20.4,8.6, 20.8,7.2, 21.2,5.8, 21.6,4.6, 22.0,3.6, 22.4,2.4, 22.8,1.4, 23.2,0.6, 23.8,0.3, 25.0,0.2, 27.0,-0.5, 29.0,-1.2, 31.0,-1.6, 33.0,-1.8, 35.0,-1.9, 37.0,-2.0, 39.5,-1.6, 39.4,-2.1, 37.0,-2.2, 35.0,-2.1, 33.0,-2.4, 31.0,-2.6, 29.0,-2.4, 27.0,-2.2, 25.0,-2.0, 23.0,-1.8, 21.0,-1.8, 19.0,-1.6, 17.0,-1.5, 15.0,-1.4, 13.0,-1.2, 11.0,-1.2, 9.0,-1.0, 7.0,-0.8, 5.0,-0.8, 3.0,-0.6, 2.3,-0.2];
const f3 = [2.0,0.0, 2.1,5.0, 2.3,8.0, 2.6,8.6, 3.0,7.0, 3.4,7.8, 3.8,8.6, 4.2,8.0, 4.6,8.4, 5.0,9.0, 5.4,8.6, 5.8,9.4, 6.2,10.6, 6.6,11.4, 7.0,10.6, 7.4,11.2, 7.8,10.2, 8.2,9.6, 8.6,9.8, 9.0,9.2, 9.4,9.8, 9.8,8.6, 10.2,9.0, 10.6,8.8, 11.0,9.6, 11.4,8.4, 11.8,9.0, 12.2,8.2, 12.6,8.6, 13.0,8.2, 13.4,9.0, 13.8,8.4, 14.2,8.6, 14.6,8.0, 15.0,8.6, 15.4,9.2, 15.8,10.6, 16.2,10.2, 16.6,9.0, 17.0,8.0, 17.4,7.8, 17.8,7.2, 18.2,6.8, 18.6,7.4, 19.0,6.6, 19.4,7.0, 19.8,8.8, 20.2,8.0, 20.6,7.0, 21.0,6.4, 21.4,5.6, 21.8,4.8, 22.2,3.8, 22.6,3.2, 23.0,2.6, 23.5,3.4, 24.0,3.2, 24.6,2.8, 25.2,2.6, 26.0,2.8, 27.0,2.4, 28.0,2.2, 29.0,1.8, 30.0,1.6, 31.0,1.2, 32.0,0.8, 33.0,0.4, 34.0,0.2, 35.0,0.0, 36.0,-0.1, 37.0,-0.2, 39.0,-0.1];
const f4 = [2.2,12.6, 2.6,12.0, 3.0,11.4, 3.4,12.0, 3.8,10.8, 4.2,11.6, 4.6,11.0, 5.0,12.4, 5.4,11.6, 5.8,12.4, 6.2,11.8, 6.6,13.0, 7.0,12.2, 7.4,13.4, 7.8,12.6, 8.2,13.6, 8.6,12.4, 9.0,13.2, 9.4,12.0, 9.8,13.4, 10.2,15.0, 10.6,13.2, 11.0,12.8, 11.4,13.6, 11.8,12.6, 12.2,13.2, 12.6,12.2, 13.0,12.6, 13.4,11.8, 13.8,12.4, 14.2,11.8, 14.6,12.8, 15.0,12.0, 15.6,12.6, 16.2,11.8, 16.8,12.4, 17.4,11.6, 18.0,12.2, 18.6,11.4, 19.2,11.8, 19.8,12.6, 20.0,14.2, 20.2,11.6, 20.8,11.0, 21.4,10.6, 22.0,10.2, 22.6,9.6, 23.2,9.2, 23.8,8.4, 24.4,7.6, 25.0,7.0, 25.6,6.8, 26.2,6.0, 26.8,5.2, 27.4,4.2, 27.8,3.2, 28.2,2.2, 28.6,1.0, 29.0,0.4, 30.0,0.0, 31.0,-0.2, 32.0,-0.3, 33.0,-0.2, 34.0,-0.4];
const f5 = [20.0,10.6, 20.6,9.8, 21.0,9.0, 21.5,8.2, 22.0,7.2, 22.5,6.2, 23.0,6.0, 23.6,5.4, 24.0,4.6, 24.5,5.4, 25.0,4.2, 25.4,3.6, 26.0,2.6, 26.6,1.8, 27.0,0.8, 27.5,0.0, 28.0,-0.6, 29.0,-1.0, 30.0,-1.4];
const f6 = [24.6,11.0, 25.2,10.4, 25.8,9.8, 26.4,9.0, 27.0,8.6, 27.6,7.8, 28.0,6.6, 28.4,5.6, 28.8,4.2, 29.2,3.0, 29.6,1.8, 30.0,0.8, 30.6,0.0, 31.2,-0.6, 32.0,-1.0, 33.0,-1.4, 34.0,-1.2, 35.0,-1.6, 36.0,-1.8, 37.0,-1.6, 38.0,-1.7, 39.4,-1.4];
const f7 = [1.1,-1.0, 1.2,3.7, 1.3,-0.6, 1.2,3.2, 1.4,0.0, 1.3,2.8, 1.1,-0.8];
const f8 = [1.8,0.0, 1.9,12.0, 2.1,4.0, 2.0,13.5, 1.9,6.5, 2.1,15.0, 2.2,8.0];
const f9 = [2.3,1.2, 3.0,0.6, 4.0,0.3, 5.0,0.4, 6.0,0.5, 7.0,0.4, 8.0,0.2, 9.0,0.3, 10.0,0.2, 12.0,0.0, 14.0,-0.3, 16.0,-0.6, 18.0,-0.8, 20.0,-1.0, 22.0,-1.0, 24.0,-0.8, 26.0,-1.0, 28.0,-1.4, 30.0,-1.8, 32.0,-2.0, 34.0,-2.0, 36.0,-2.2, 38.0,-2.0, 39.5,-2.3];
const f10 = [2.3,0.6, 3.5,-0.2, 5.0,-0.6, 7.0,-0.8, 9.0,-1.0, 11.0,-1.2, 13.0,-1.5, 15.0,-1.8, 17.0,-1.6, 19.0,-1.4, 21.0,-1.2, 23.0,-1.0, 25.0,-1.2, 27.0,-1.5, 29.0,-1.7, 31.0,-2.0, 33.0,-2.2, 35.0,-1.8, 37.0,-1.9, 39.0,-2.0];

// ---------- assembly ----------
const panelTraces = [
  [a1,a2,a3,a4,a5,a6,a7,a8,a9,a10,a11,a12,a13,a14,a15,a16],
  [b1,b2,b3,b4,b5,b6,b7,b8,b9,b10],
  [c1,c2,c3,c4,c5,c6,c7,c8,c9,c10,c11],
  [d1,d2,d3,d4,d5,d6,d7,d8,d9,d10,d11,d12,d13,d14,d15,d16,d17,d18],
  [e1,e2,e3,e4,e5,e6,e7,e8,e9,e10,e11],
  [f1,f2,f3,f4,f5,f6,f7,f8,f9,f10]
];
const panelCircles = [aCircle, null, null, dCircle, null, null];

const layout = [
  {left:45,  top:50,  width:502, height:374, lx:59,  ly:6,   xGap:14, yGap:21, lw:1.5},
  {left:612, top:50,  width:479, height:374, lx:620, ly:5,   xGap:19, yGap:21, lw:1.3},
  {left:51,  top:527, width:484, height:374, lx:55,  ly:479, xGap:15, yGap:21, lw:1.5},
  {left:592, top:523, width:498, height:374, lx:620, ly:479, xGap:15, yGap:21, lw:1.3},
  {left:62,  top:992, width:482, height:377, lx:66,  ly:953, xGap:14, yGap:21, lw:1.0},
  {left:605, top:993, width:492, height:376, lx:627, ly:953, xGap:14, yGap:21, lw:1.0}
];

function pairs(flat){const o=[];for(let i=0;i<flat.length;i+=2)o.push([flat[i],flat[i+1]]);return o;}
const sans = 'Liberation Sans, Arial, sans-serif';
const fmt = v => String(v).replace('-', '\u2212');

const option = {backgroundColor:'#fff', animation:false, title:[], grid:[], xAxis:[], yAxis:[], series:[]};
layout.forEach((L,i)=>{
  option.title.push({text:panelLetters[i], left:L.lx, top:L.ly,
    textStyle:{fontFamily:'Liberation Serif, DejaVu Serif, serif', fontWeight:'bold', fontSize:30, color:'#000'}});
  option.grid.push({left:L.left, top:L.top, width:L.width, height:L.height, containLabel:false});
  const tick = (vals)=>({show:true, inside:true, length:5, customValues:vals, lineStyle:{color:'#000', width:1}});
  const line = {show:true, onZero:false, lineStyle:{color:'#000', width:1}};
  const split = {show:true, lineStyle:{color:'#666', width:1, type:[1,4]}};
  option.xAxis.push({gridIndex:i, type:'value', min:0, max:40, position:'bottom',
    name:xName, nameLocation:'middle', nameGap:L.xGap,
    nameTextStyle:{fontFamily:sans, fontSize:13, color:'#000'},
    axisLine:line, axisTick:tick(xTicks),
    axisLabel:{customValues:xTicks, margin:5, fontFamily:sans, fontSize:13, fontWeight:'bold', color:'#000', formatter:fmt},
    splitLine:split});
  option.xAxis.push({gridIndex:i, type:'value', min:0, max:40, position:'top',
    axisLine:line, axisTick:tick(xTicks), axisLabel:{show:false}, splitLine:{show:false}});
  option.yAxis.push({gridIndex:i, type:'value', min:-8, max:30, position:'left',
    name:yName, nameLocation:'middle', nameGap:L.yGap, nameRotate:90,
    nameTextStyle:{fontFamily:sans, fontSize:13, color:'#000'},
    axisLine:line, axisTick:tick(yTicks),
    axisLabel:{customValues:yTicks, margin:4, fontFamily:sans, fontSize:13, fontWeight:'bold', color:'#000', formatter:fmt},
    splitLine:split});
  option.yAxis.push({gridIndex:i, type:'value', min:-8, max:30, position:'right',
    axisLine:line, axisTick:tick(yTicks), axisLabel:{show:false}, splitLine:{show:false}});
  panelTraces[i].forEach(tr=>{
    option.series.push({type:'line', xAxisIndex:2*i, yAxisIndex:2*i, data:pairs(tr),
      showSymbol:false, symbol:'none', silent:true, clip:true,
      lineStyle:{color:'#000', width:L.lw}});
  });
  if (panelCircles[i]) {
    option.series.push({type:'scatter', xAxisIndex:2*i, yAxisIndex:2*i, data:panelCircles[i],
      symbol:'circle', symbolSize:66, silent:true,
      itemStyle:{color:'rgba(0,0,0,0)', borderColor:'#000', borderWidth:1}});
  }
});
const chart = echarts.init(document.getElementById('c'), null, {renderer:'canvas'});
chart.setOption(option);
</script>
</body></html>
